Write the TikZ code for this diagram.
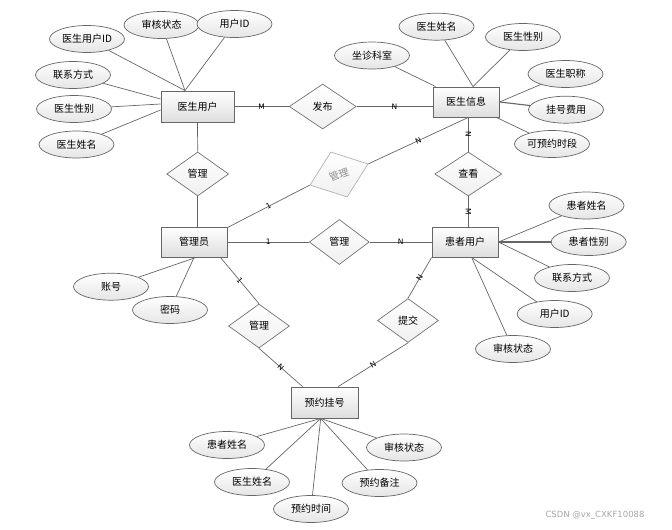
\documentclass[tikz,border=0pt]{standalone}
\usepackage{fontspec}
\setmainfont{Noto Sans CJK SC}
\newfontfamily\wmfont{DejaVu Sans}
\usetikzlibrary{shapes.geometric,calc}
\tikzset{
  txt/.style={font=\fontsize{10}{12}\selectfont},
  ent/.style={rectangle, draw=black!60, line width=0.9pt, top color=white, bottom color=black!13,
    minimum width=66pt, minimum height=30pt, inner sep=0pt, txt},
  rel/.style={diamond, draw=black!55, line width=0.7pt, top color=white, bottom color=black!6,
    minimum width=64pt, minimum height=44pt, inner sep=0pt, txt},
  attr/.style={ellipse, draw=black!60, line width=0.7pt, top color=white, bottom color=black!10,
    minimum width=75pt, minimum height=27pt, inner sep=0pt, txt},
  conn/.style={draw=black!60, line width=0.7pt},
  card/.style={sloped, font=\wmfont\fontsize{7.5}{8}\selectfont, inner sep=0pt, text=black},
}
\begin{document}
\begin{tikzpicture}[x=1pt,y=-1pt]
\useasboundingbox (0,0) rectangle (672,530);

% entities
\node[ent, minimum width=73pt, minimum height=31pt] (du) at (197.5,106.5) {医生用户};
\node[ent] (ys) at (466,102) {医生信息};
\node[ent] (gly) at (194,242) {管理员};
\node[ent] (hz) at (465,242) {患者用户};
\node[ent, minimum width=67pt, minimum height=31pt] (yy) at (324.5,402.5) {预约挂号};

% relations
\node[rel, minimum width=67pt, minimum height=45pt] (fb) at (322.7,106.5) {发布};
\node[rel, minimum width=62pt] (gl1) at (197.7,174) {管理};
\node[rel, minimum width=62pt, minimum height=48pt, rotate=20, draw=black!30, text=black!45] (gl2) at (339,174.5) {管理};
\node[rel, minimum width=67pt] (ck) at (468.3,174) {查看};
\node[rel, minimum width=60pt, minimum height=45pt] (gl3) at (339.3,242) {管理};
\node[rel, minimum width=61pt] (gl4) at (259,326) {管理};
\node[rel, minimum width=61pt] (tj) at (408,320.5) {提交};

% attributes of 医生用户
\node[attr] (a_duid) at (87,39) {医生用户ID};
\node[attr] (a_dush) at (161.5,25) {审核状态};
\node[attr] (a_duuid) at (234.5,24) {用户ID};
\node[attr] (a_dulx) at (73,75) {联系方式};
\node[attr] (a_duxb) at (74,109) {医生性别};
\node[attr] (a_duxm) at (76.5,144.5) {医生姓名};

% attributes of 医生信息
\node[attr] (b_kz) at (372,55.5) {坐诊科室};
\node[attr] (b_xm) at (436.5,26.7) {医生姓名};
\node[attr] (b_xb) at (523,37) {医生性别};
\node[attr] (b_zc) at (565.5,74) {医生职称};
\node[attr] (b_fy) at (566,109.7) {挂号费用};
\node[attr] (b_sd) at (552,144) {可预约时段};

% attributes of 患者用户
\node[attr] (c_xm) at (586.5,205.5) {患者姓名};
\node[attr] (c_xb) at (588.7,242) {患者性别};
\node[attr] (c_lx) at (572,278) {联系方式};
\node[attr] (c_id) at (554.7,314) {用户ID};
\node[attr] (c_sh) at (513,349) {审核状态};

% attributes of 预约挂号
\node[attr] (d_hz) at (227,445) {患者姓名};
\node[attr] (d_ys) at (252,482) {医生姓名};
\node[attr] (d_sj) at (311,509) {预约时间};
\node[attr] (d_bz) at (379.5,483) {预约备注};
\node[attr] (d_sh) at (404,447.5) {审核状态};

% attributes of 管理员
\node[attr] (e_zh) at (111,286.7) {账号};
\node[attr] (e_mm) at (170,310) {密码};

% attachment points
\coordinate (duT) at ($(du.north)+(-12.5,0)$);
\coordinate (duL1) at ($(du.west)+(0,-7.5)$);
\coordinate (duL2) at ($(du.west)+(0,-2.5)$);
\coordinate (duL3) at ($(du.west)+(0,3.5)$);
\coordinate (ysT1) at ($(ys.north west)+(3,0)$);
\coordinate (ysT2) at ($(ys.north)+(7,0)$);
\coordinate (ysB) at ($(ys.south east)+(-3,0)$);
\coordinate (ysB2) at ($(ys.south)+(2.3,0)$);
\coordinate (hzB) at ($(hz.south)+(6.7,0)$);
\coordinate (yyB) at ($(yy.south)+(-3.8,0)$);
\coordinate (yyT1) at ($(yy.north west)+(12,0)$);
\coordinate (yyT2) at ($(yy.north)+(13.7,0)$);
\coordinate (glyB) at ($(gly.south)+(2,0)$);
\coordinate (glyB2) at ($(gly.south east)+(-7,0)$);
\coordinate (glyT) at ($(gly.north east)+(0,1)$);

% attribute links
\draw[conn] (a_duid) -- (duT);
\draw[conn] (a_dush) -- (duT);
\draw[conn] (a_duuid) -- (duT);
\draw[conn] (a_dulx) -- (duL1);
\draw[conn] (a_duxb) -- (duL2);
\draw[conn] (a_duxm) -- (duL3);

\draw[conn] (b_kz) -- (ysT1);
\draw[conn] (b_xm) -- (ysT2);
\draw[conn] (b_xb) -- (ysT2);
\draw[conn] (b_zc) -- (ys.east);
\draw[conn, line width=1.1pt] (b_fy) -- (ys.east);
\draw[conn] (b_sd) -- (ysB);

\draw[conn] (c_xm) -- (hz.east);
\draw[conn, line width=1.1pt] (c_xb) -- (hz.east);
\draw[conn] (c_lx) -- (hz.east);
\draw[conn] (c_id) -- (hzB);
\draw[conn] (c_sh) -- (hzB);

\draw[conn] (d_hz) -- (yyB);
\draw[conn] (d_ys) -- (yyB);
\draw[conn] (d_sj) -- (yyB);
\draw[conn] (d_bz) -- (yyB);
\draw[conn] (d_sh) -- (yyB);

\draw[conn] (e_zh) -- (glyB);
\draw[conn] (e_mm) -- (gly.south);

% relationship links
\draw[conn] (du.east) -- node[card]{M} (fb.west);
\draw[conn] (fb.east) -- node[card]{N} (fb.east -| ys.west);
\draw[conn] (du.south) -- (gl1.north);
\draw[conn] (gl1.south) -- (gl1.south |- gly.north);
\draw[conn] (glyT) -- node[card]{1} (gl2.west);
\draw[conn] (gl2.east) -- node[card]{N} (ysB2);
\draw[conn] (ck.north |- ys.south) -- node[card]{N} (ck.north);
\draw[conn] (ck.south) -- node[card]{M} (ck.south |- hz.north);
\draw[conn, line width=1pt] (gly.east) -- node[card]{1} (gl3.west);
\draw[conn] (gl3.east) -- node[card]{N} (hz.west);
\draw[conn] (glyB2) -- node[card]{1} (gl4.north);
\draw[conn] (gl4.south) -- node[card]{N} (yyT1);
\draw[conn] (hz.south west) -- node[card]{N} (tj.north);
\draw[conn] (tj.south) -- node[card]{N} (yyT2);

% watermark
\node[font=\wmfont\fontsize{8.5}{10}\selectfont, text=black!35, inner sep=0pt] (wm) at (595,515) {CSDN @vx\_CXKF10088};
\end{tikzpicture}
\end{document}
